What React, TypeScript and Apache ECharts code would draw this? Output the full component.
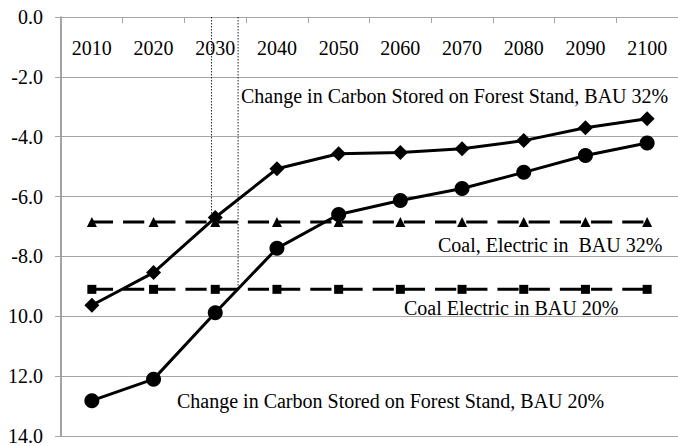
import React, { useEffect, useRef } from "react";
import * as echarts from "echarts";

const years = ["2010", "2020", "2030", "2040", "2050", "2060", "2070", "2080", "2090", "2100"];
const forestBau32 = [-9.63, -8.54, -6.7, -5.07, -4.57, -4.53, -4.4, -4.13, -3.7, -3.4];
const forestBau20 = [-12.82, -12.1, -9.88, -7.73, -6.6, -6.13, -5.73, -5.19, -4.63, -4.21];
const coalBau32 = [-6.85, -6.85, -6.85, -6.85, -6.85, -6.85, -6.85, -6.85, -6.85, -6.85];
const coalBau20 = [-9.1, -9.1, -9.1, -9.1, -9.1, -9.1, -9.1, -9.1, -9.1, -9.1];
const crossoverYears = [2029.4, 2033.7];
const crossoverValues = [-6.85, -9.1];
const annotations = [
  "Change in Carbon Stored on Forest Stand, BAU 32%",
  "Coal, Electric in  BAU 32%",
  "Coal Electric in BAU 20%",
  "Change in Carbon Stored on Forest Stand, BAU 20%",
];

const FONT = '"Liberation Serif", "Times New Roman", serif';

export default function App() {
  const ref = useRef<HTMLDivElement>(null);
  useEffect(() => {
    if (!ref.current) return;
    const chart = echarts.init(ref.current, undefined, { renderer: "svg" });
    const annPos = [
      [241, 96],
      [438, 245],
      [404, 308],
      [177, 401],
    ];
    chart.setOption({
      animation: false,
      backgroundColor: "#fff",
      grid: { left: 61, top: 17, right: -6.3, bottom: 9, containLabel: false },
      xAxis: [
        {
          type: "category",
          data: years,
          position: "top",
          boundaryGap: true,
          axisLine: { show: true, lineStyle: { color: "#a6a6a6", width: 1 } },
          axisTick: { show: true, inside: true, length: 6, lineStyle: { color: "#a6a6a6" } },
          axisLabel: {
            inside: true,
            margin: 31,
            verticalAlign: "middle",
            fontSize: 20,
            fontFamily: FONT,
            color: "#000",
          },
          splitLine: { show: false },
        },
        {
          type: "value",
          min: 2005,
          max: 2105,
          show: false,
        },
      ],
      yAxis: {
        type: "value",
        min: -14,
        max: 0,
        interval: 2,
        axisLine: { show: true, lineStyle: { color: "#868686", width: 1.5 } },
        axisTick: { show: true, inside: false, length: 6, lineStyle: { color: "#a6a6a6" } },
        axisLabel: {
          margin: 18,
          fontSize: 20,
          fontFamily: FONT,
          color: "#000",
          formatter: (v: number) => (v <= -10 ? (-v).toFixed(1) : v.toFixed(1)),
        },
        splitLine: { show: true, lineStyle: { color: "#a6a6a6", width: 1 } },
      },
      graphic: annotations.map((t, i) => ({
        type: "text",
        x: annPos[i][0],
        y: annPos[i][1],
        z: 100,
        style: {
          text: t,
          fontSize: 20,
          fontFamily: FONT,
          fill: "#000",
          align: "left",
          verticalAlign: "middle",
          textAlign: "left",
          textVerticalAlign: "middle",
        },
      })),
      series: [
        {
          type: "line",
          xAxisIndex: 1,
          data: [
            [crossoverYears[0], 0],
            [crossoverYears[0], crossoverValues[0]],
          ],
          symbol: "none",
          lineStyle: { color: "#222", width: 1, type: [1.5, 1.5] },
          z: 1,
        },
        {
          type: "line",
          xAxisIndex: 1,
          data: [
            [crossoverYears[1], 0],
            [crossoverYears[1], crossoverValues[1]],
          ],
          symbol: "none",
          lineStyle: { color: "#222", width: 1, type: [1.5, 1.5] },
          z: 1,
        },
        {
          type: "line",
          data: coalBau32,
          symbol: "triangle",
          symbolSize: 10,
          itemStyle: { color: "#000" },
          lineStyle: { color: "#000", width: 3, type: [21.2, 10] },
          z: 2,
        },
        {
          type: "line",
          data: coalBau20,
          symbol: "rect",
          symbolSize: 9,
          itemStyle: { color: "#000" },
          lineStyle: { color: "#000", width: 3, type: [21.2, 10] },
          z: 2,
        },
        {
          type: "line",
          data: forestBau32,
          symbol: "diamond",
          symbolSize: 15,
          itemStyle: { color: "#000" },
          lineStyle: { color: "#000", width: 3 },
          z: 3,
        },
        {
          type: "line",
          data: forestBau20,
          symbol: "circle",
          symbolSize: 15,
          itemStyle: { color: "#000" },
          lineStyle: { color: "#000", width: 3 },
          z: 3,
        },
      ],
    });
    return () => chart.dispose();
  }, []);
  return (
    <div
      ref={ref}
      style={{ position: "fixed", left: 0, top: 0, width: 678, height: 446, background: "#fff" }}
    />
  );
}
